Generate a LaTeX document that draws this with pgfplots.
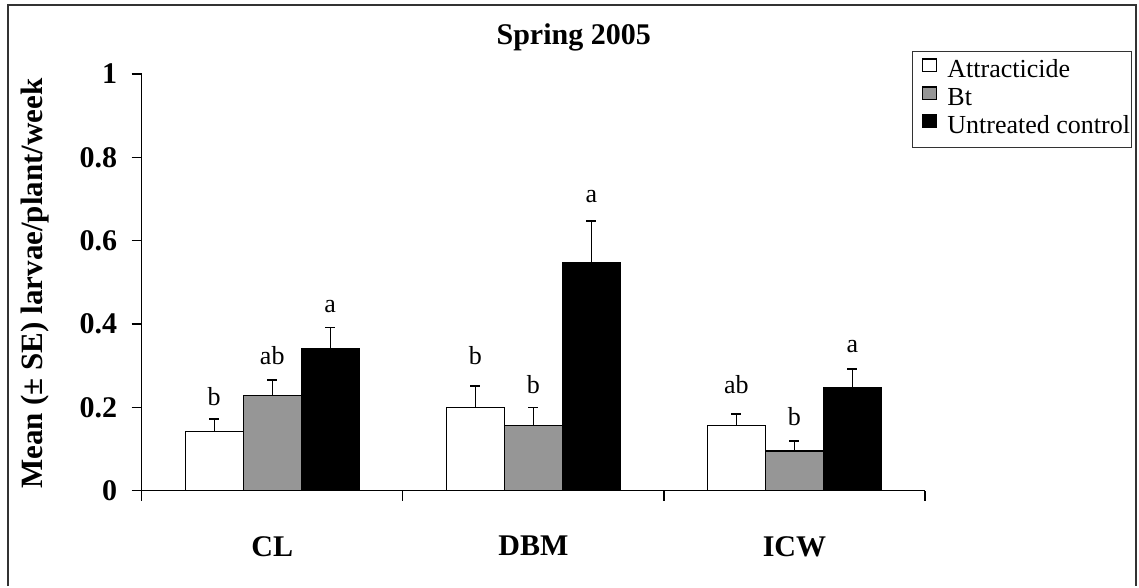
\documentclass[border=0pt]{standalone}
\usepackage{fontspec}
\setmainfont{Liberation Serif}
\usepackage{pgfplots}
\pgfplotsset{compat=1.18}
\usepackage{pgfplotstable}

\definecolor{btgray}{RGB}{150,150,150}

% cat = category index, y = mean, e = SE, ly = height of the letter label, l = letter
\pgfplotstableread{
cat y     e     ly     l
0   0.142 0.030 0.2033 b
1   0.199 0.052 0.3017 b
2   0.157 0.027 0.2313 ab
}\attract
\pgfplotstableread{
cat y     e     ly     l
0   0.228 0.038 0.3017 ab
1   0.157 0.042 0.2321 b
2   0.095 0.024 0.1560 b
}\bt
\pgfplotstableread{
cat y     e     ly     l
0   0.340 0.051 0.4262 a
1   0.548 0.099 0.6900 a
2   0.247 0.045 0.3312 a
}\control

\pgfplotsset{
  barstyle/.style={ybar, bar width=0.2222, bar shift=0pt, draw=black, line width=1.3pt,
    error bars/y dir=plus, error bars/y explicit, error bars/error mark=|,
    error bars/error bar style={line width=1.3pt, black},
    error bars/error mark options={line width=1.3pt, black, mark size=5pt}},
  letters/.style={draw=none, forget plot, nodes near coords, point meta=explicit symbolic,
    nodes near coords style={anchor=south, inner sep=0pt, text=black,
      font=\fontsize{26}{30}\selectfont}},
}

\begin{document}
\begin{tikzpicture}[x=1pt,y=1pt]
\path (0,0) rectangle (1139,586);
\draw[line width=2pt, black!80] (7.5,0) -- (7.5,580.5) -- (1136,580.5) -- (1136,0);
\node[font=\bfseries\fontsize{30}{36}\selectfont, anchor=base] at (573.7,541) {Spring 2005};
\begin{axis}[
  at={(141.7pt,95.3pt)}, anchor=south west,
  scale only axis, width=783.3pt, height=416.7pt,
  xmin=-0.5, xmax=2.5, ymin=0, ymax=1,
  axis lines=left, axis line style={-, line width=1.3pt, black},
  tick align=outside, major tick length=10pt,
  tick style={line width=1.3pt, black},
  xtick={-0.5,0.5,1.5,2.5}, xticklabels={CL,DBM,ICW}, x tick label as interval,
  ytick={0,0.2,0.4,0.6,0.8,1}, yticklabels={0,0.2,0.4,0.6,0.8,1},
  ticklabel style={font=\bfseries\fontsize{30}{36}\selectfont},
  xticklabel style={anchor=north, yshift=-32pt},
  yticklabel style={xshift=-11pt},
  ylabel={Mean (± SE) larvae/plant/week},
  ylabel style={font=\bfseries\fontsize{31}{37}\selectfont,
    at={(rel axis cs:-0.1362,0.497)}, anchor=center},
  legend style={at={(rel axis cs:0.983,1.0552)}, anchor=north west,
    draw=black!80, line width=1pt, inner xsep=0pt, inner ysep=6pt,
    font=\fontsize{26}{30}\selectfont, column sep=9pt,
    nodes={inner xsep=1pt, inner ysep=1.5pt, text height=19pt, text depth=6pt}},
  legend cell align=left,
  legend image code/.code={\draw[#1, line width=1.2pt] (10pt,0pt) rectangle (24pt,12.5pt); \path (0pt,0pt);},
]
\addplot[barstyle, fill=white] table[x expr=\thisrow{cat}-0.2222, y=y, y error=e] {\attract};
\addlegendentry{Attracticide}
\addplot[barstyle, fill=btgray] table[x=cat, y=y, y error=e] {\bt};
\addlegendentry{Bt}
\addplot[barstyle, fill=black] table[x expr=\thisrow{cat}+0.2222, y=y, y error=e] {\control};
\addlegendentry{Untreated control}

\addplot[letters] table[x expr=\thisrow{cat}-0.2222, y=ly, meta=l] {\attract};
\addplot[letters] table[x=cat, y=ly, meta=l] {\bt};
\addplot[letters] table[x expr=\thisrow{cat}+0.2222, y=ly, meta=l] {\control};
\end{axis}
\end{tikzpicture}
\end{document}
